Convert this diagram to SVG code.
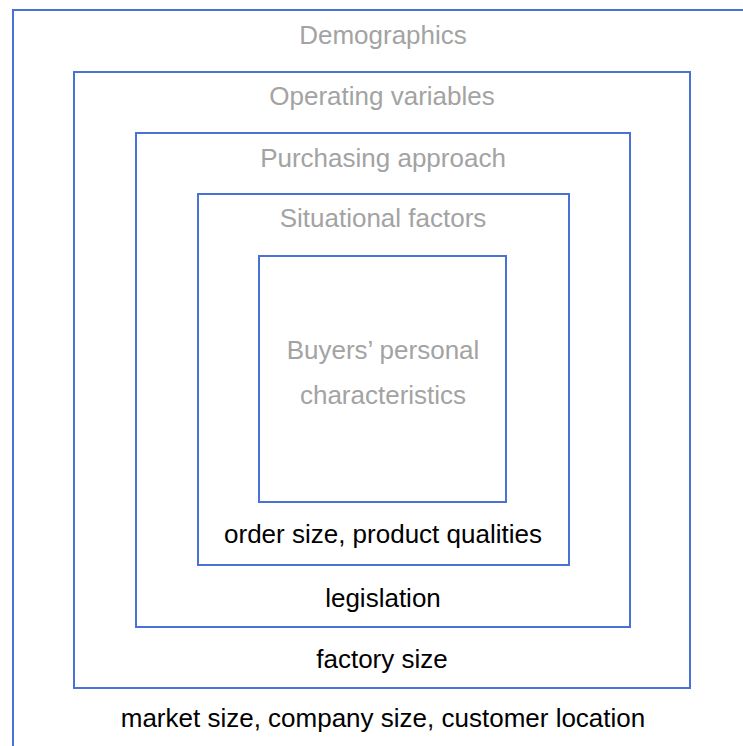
<svg xmlns="http://www.w3.org/2000/svg" width="743" height="746" viewBox="0 0 743 746">
  <style>
    .box { fill: none; stroke: #4a72d6; stroke-width: 2; }
    .title { font-family: "Liberation Sans", Arial, sans-serif; font-size: 26px; fill: #a3a3a3; text-anchor: middle; }
    .note { font-family: "Liberation Sans", Arial, sans-serif; font-size: 26px; fill: #000000; text-anchor: middle; }
  </style>
  <rect width="743" height="746" fill="#ffffff"/>
  <g id="demographics">
    <rect class="box" x="13" y="10" width="760" height="760"/>
    <text class="title" x="383" y="44">Demographics</text>
    <text class="note" x="383" y="727">market size, company size, customer location</text>
  </g>
  <g id="operating-variables">
    <rect class="box" x="74" y="72" width="616" height="616"/>
    <text class="title" x="382" y="105">Operating variables</text>
    <text class="note" x="382" y="668">factory size</text>
  </g>
  <g id="purchasing-approach">
    <rect class="box" x="136" y="133" width="494" height="494"/>
    <text class="title" x="383" y="167">Purchasing approach</text>
    <text class="note" x="383" y="607">legislation</text>
  </g>
  <g id="situational-factors">
    <rect class="box" x="198" y="194" width="371" height="371"/>
    <text class="title" x="383" y="227">Situational factors</text>
    <text class="note" x="383" y="543">order size, product qualities</text>
  </g>
  <g id="buyers-personal-characteristics">
    <rect class="box" x="259" y="256" width="247" height="246"/>
    <text class="title" x="383" y="359">Buyers’ personal</text>
    <text class="title" x="383" y="404">characteristics</text>
  </g>
  <g id="connectors"/>
</svg>
